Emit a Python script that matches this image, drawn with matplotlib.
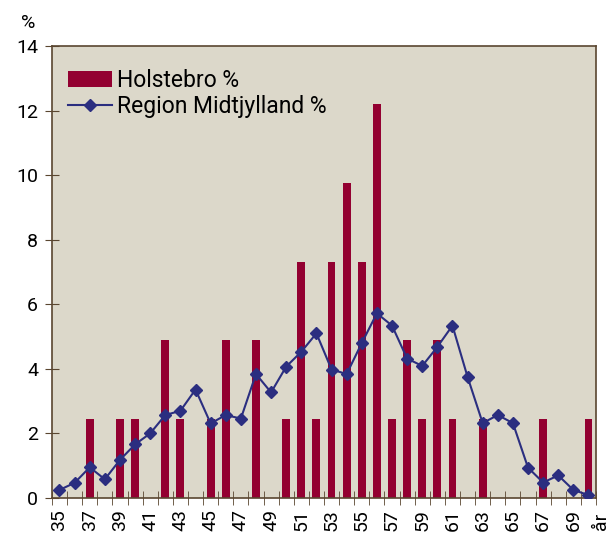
import matplotlib.pyplot as plt
import numpy as np

plt.rcParams['font.family'] = ['Roboto', 'DejaVu Sans']

ages = list(range(35, 71))
holstebro = [0, 0, 2.44, 0, 2.44, 2.44, 0, 4.88, 2.44, 0,
             2.44, 4.88, 0, 4.88, 0, 2.44, 7.32, 2.44, 7.32, 9.76,
             7.32, 12.2, 2.44, 4.88, 2.44, 4.88, 2.44, 0, 2.44, 0,
             0, 0, 2.44, 0, 0, 2.44]
region = [0.25, 0.47, 0.95, 0.58, 1.18, 1.66, 2.0, 2.57, 2.7, 3.36,
          2.31, 2.57, 2.46, 3.84, 3.27, 4.07, 4.53, 5.1, 3.98, 3.84,
          4.8, 5.72, 5.34, 4.32, 4.09, 4.68, 5.34, 3.75, 2.32, 2.57,
          2.32, 0.94, 0.48, 0.7, 0.25, 0.09]

bar_col = '#930031'
line_col = '#2b2e80'
axis_col = '#5a4630'

fig = plt.figure(figsize=(6.11, 5.34), dpi=100)
ax = fig.add_axes([0.085, 0.0674, 0.8905, 0.8465])
ax.set_facecolor('#dcd8ca')

x = np.arange(len(ages))
bars = ax.bar(x, holstebro, width=0.52, color=bar_col, label='Holstebro %', zorder=2)
line, = ax.plot(x, region, color=line_col, lw=1.5, marker='D', ms=6.5,
                mfc=line_col, mec=line_col, label='Region Midtjylland %', zorder=3)

ax.set_xlim(-0.5, len(ages) - 0.5)
ax.set_ylim(0, 14)
ax.set_yticks(range(0, 15, 2))
ax.tick_params(axis='y', direction='inout', length=10, color=axis_col,
               labelsize=14, pad=5)

ax.set_xticks(x[::2])
ax.set_xticklabels([str(a) for a in ages[::2]], rotation=90, fontsize=14)
ax.set_xticks(np.arange(-0.5, len(ages), 1), minor=True)
ax.tick_params(axis='x', which='major', length=0, pad=8)
ax.tick_params(axis='x', which='minor', direction='inout', length=10,
               color=axis_col)
ax.text(len(ages) - 0.2, -0.45, 'år', rotation=90, ha='center', va='top',
        fontsize=14)

for s in ax.spines.values():
    s.set_color(axis_col)
    s.set_linewidth(1.2)

fig.text(0.034, 0.948, '%', fontsize=14)

ax.legend([bars, line], ['Holstebro %', 'Region Midtjylland %'],
          loc='upper left', bbox_to_anchor=(0.0, 0.985), frameon=False,
          fontsize=16.5, handlelength=1.9, handletextpad=0.25,
          labelspacing=0.15, borderaxespad=0.3)

fig.savefig('out.png', dpi=100)
